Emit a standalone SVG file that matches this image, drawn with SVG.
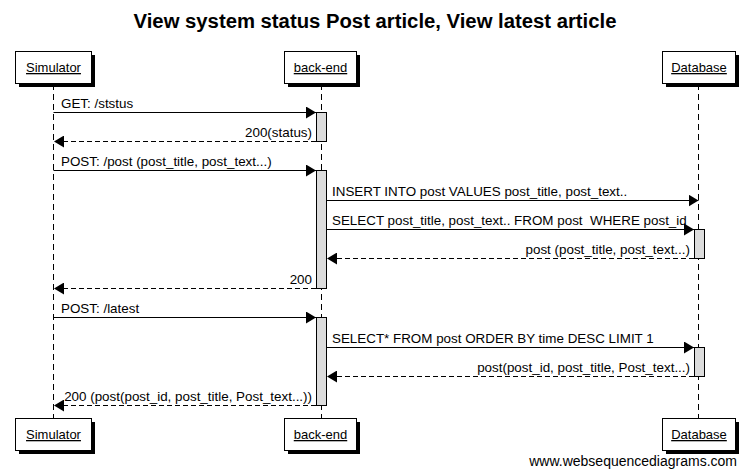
<svg xmlns="http://www.w3.org/2000/svg" width="750" height="474" viewBox="0 0 750 474">
<style>
text{font-family:"Liberation Sans",Arial,sans-serif;fill:#000}
.t{font-size:13.4px}
.n{font-size:13px}
.title{font-size:20.3px;font-weight:bold}
.box{fill:#fff;stroke:#000;stroke-width:1}
.sh{fill:#000}
.life{stroke:#000;stroke-width:1;stroke-dasharray:6,4;fill:none}
.act{fill:#dcdcdc;stroke:#000;stroke-width:1}
.msg{stroke:#000;stroke-width:1;fill:none}
.ret{stroke:#000;stroke-width:1;fill:none;stroke-dasharray:5,3}
</style>
<defs>
<marker id="ah" markerWidth="10" markerHeight="12" refX="10" refY="6" orient="auto" markerUnits="userSpaceOnUse">
<path d="M0,0 L10,6 L0,12 Z" fill="#000"/>
</marker>
</defs>
<rect width="750" height="474" fill="#fff"/>
<text class="title" x="375" y="28" text-anchor="middle">View system status Post article, View latest article</text>

<g id="lifelines">
<line class="life" x1="53.5" y1="84" x2="53.5" y2="419"/>
<line class="life" x1="321.5" y1="84" x2="321.5" y2="419"/>
<line class="life" x1="698.5" y1="84" x2="698.5" y2="419"/>
</g>

<g id="activations">
<rect class="act" x="316.5" y="112.5" width="10" height="29"/>
<rect class="act" x="316.5" y="170.5" width="10" height="118"/>
<rect class="act" x="694.5" y="229.5" width="10" height="29"/>
<rect class="act" x="316.5" y="317.5" width="10" height="88"/>
<rect class="act" x="694.5" y="347.5" width="10" height="29"/>
</g>

<g id="node-simulator">
<rect class="sh" x="19" y="55" width="76" height="32"/>
<rect class="box" x="15.5" y="51.5" width="76" height="32"/>
<text class="n" x="53.5" y="72" text-anchor="middle" text-decoration="underline">Simulator</text>
<rect class="sh" x="19" y="422" width="76" height="32"/>
<rect class="box" x="15.5" y="418.5" width="76" height="32"/>
<text class="n" x="53.5" y="439" text-anchor="middle" text-decoration="underline">Simulator</text>
</g>

<g id="node-backend">
<rect class="sh" x="288" y="55" width="72" height="32"/>
<rect class="box" x="284.5" y="51.5" width="72" height="32"/>
<text class="n" x="320.5" y="72" text-anchor="middle" text-decoration="underline">back-end</text>
<rect class="sh" x="288" y="422" width="72" height="32"/>
<rect class="box" x="284.5" y="418.5" width="72" height="32"/>
<text class="n" x="320.5" y="439" text-anchor="middle" text-decoration="underline">back-end</text>
</g>

<g id="node-database">
<rect class="sh" x="666" y="55" width="73" height="32"/>
<rect class="box" x="662.5" y="51.5" width="73" height="32"/>
<text class="n" x="699" y="72" text-anchor="middle" text-decoration="underline">Database</text>
<rect class="sh" x="666" y="422" width="73" height="32"/>
<rect class="box" x="662.5" y="418.5" width="73" height="32"/>
<text class="n" x="699" y="439" text-anchor="middle" text-decoration="underline">Database</text>
</g>

<g id="connectors">
<line class="msg" x1="53.5" y1="112.5" x2="316" y2="112.5" marker-end="url(#ah)"/>
<text class="t" x="61" y="108">GET: /ststus</text>

<line class="ret" x1="316" y1="141.5" x2="54" y2="141.5" marker-end="url(#ah)"/>
<text class="t" x="312" y="137" text-anchor="end">200(status)</text>

<line class="msg" x1="53.5" y1="170.5" x2="316" y2="170.5" marker-end="url(#ah)"/>
<text class="t" x="61" y="166">POST: /post (post_title, post_text...)</text>

<line class="msg" x1="326.5" y1="200.5" x2="698.5" y2="200.5" marker-end="url(#ah)"/>
<text class="t" x="332" y="196">INSERT INTO post VALUES post_title, post_text..</text>

<line class="msg" x1="326.5" y1="229.5" x2="694" y2="229.5" marker-end="url(#ah)"/>
<text class="t" x="332" y="225" xml:space="preserve">SELECT post_title, post_text.. FROM post  WHERE post_id</text>

<line class="ret" x1="694" y1="258.5" x2="327" y2="258.5" marker-end="url(#ah)"/>
<text class="t" x="690" y="254" text-anchor="end">post (post_title, post_text...)</text>

<line class="ret" x1="316" y1="288.5" x2="54" y2="288.5" marker-end="url(#ah)"/>
<text class="t" x="312" y="284" text-anchor="end">200</text>

<line class="msg" x1="53.5" y1="317.5" x2="316" y2="317.5" marker-end="url(#ah)"/>
<text class="t" x="61" y="313">POST: /latest</text>

<line class="msg" x1="326.5" y1="347.5" x2="694" y2="347.5" marker-end="url(#ah)"/>
<text class="t" x="332" y="343">SELECT* FROM post ORDER BY time DESC LIMIT 1</text>

<line class="ret" x1="694" y1="376.5" x2="327" y2="376.5" marker-end="url(#ah)"/>
<text class="t" x="690" y="372" text-anchor="end">post(post_id, post_title, Post_text...)</text>

<line class="ret" x1="316" y1="405.5" x2="54" y2="405.5" marker-end="url(#ah)"/>
<text class="t" x="312" y="401" text-anchor="end">200 (post(post_id, post_title, Post_text...))</text>
</g>

<text x="737" y="466" text-anchor="end" style="font-size:14px">www.websequencediagrams.com</text>
</svg>
